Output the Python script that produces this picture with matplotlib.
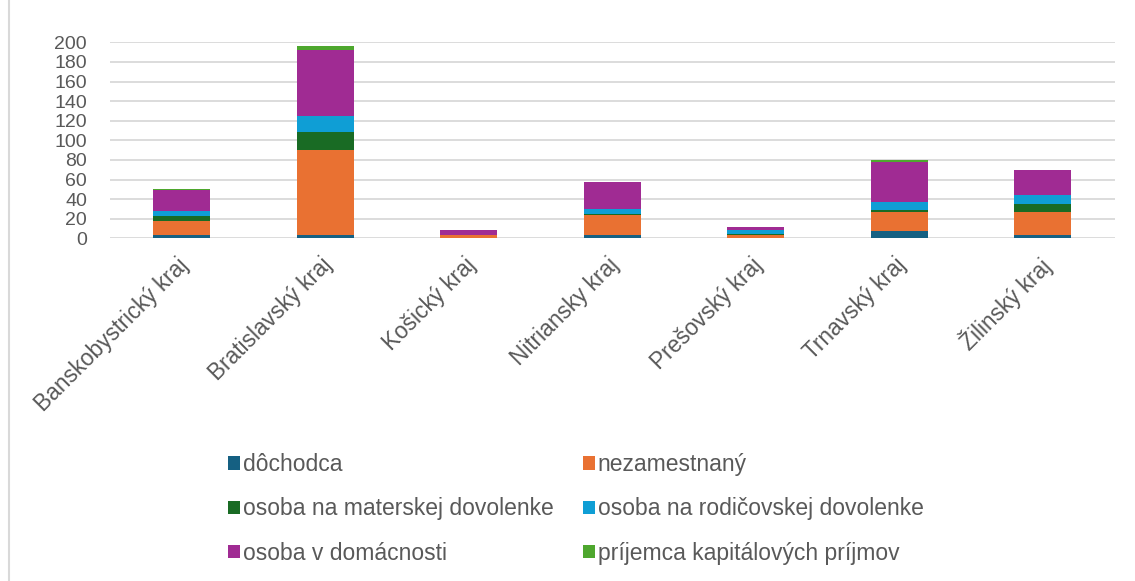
import matplotlib
matplotlib.use("Agg")
import matplotlib.pyplot as plt
from matplotlib.lines import Line2D
import matplotlib.transforms as mtransforms
import numpy as np

categories = ["Banskobystrický kraj", "Bratislavský kraj", "Košický kraj", "Nitriansky kraj",
              "Prešovský kraj", "Trnavský kraj", "Žilinský kraj"]
series_names = ["dôchodca", "nezamestnaný", "osoba na materskej dovolenke",
                "osoba na rodičovskej dovolenke", "osoba v domácnosti",
                "príjemca kapitálových príjmov"]
dochodca = [3, 3, 0, 3, 0, 7, 3]
nezamestnany = [15, 87, 3, 21, 3, 20, 24]
materska = [5, 18, 0, 1, 1, 2, 8]
rodicovska = [5, 17, 0, 5, 4, 8, 9]
domacnost = [21, 67, 5, 27, 4, 41, 26]
kapital = [1, 4, 0, 0, 0, 2, 0]
y_ticks = [0, 20, 40, 60, 80, 100, 120, 140, 160, 180, 200]

colors = ["#156082", "#E97132", "#196B24", "#0F9ED5", "#A02B93", "#4EA72E"]
series = [dochodca, nezamestnany, materska, rodicovska, domacnost, kapital]

plt.rcParams['font.family'] = ['Liberation Sans', 'DejaVu Sans']
fig = plt.figure(figsize=(11.35, 5.81), dpi=100)
W, H = 1135, 581
ax = fig.add_axes([110 / W, (H - 238.3) / H, (1114.5 - 110) / W, (238.3 - 42.3) / H])

x = np.arange(len(categories))
bottom = np.zeros(len(categories))
handles = []
for name, vals, c in zip(series_names, series, colors):
    b = ax.bar(x, vals, width=0.4, bottom=bottom, color=c, label=name, zorder=3)
    handles.append(b)
    bottom += np.array(vals)

ax.set_xlim(-0.5, len(categories) - 0.5)
ax.set_ylim(0, 200)
ax.set_yticks(y_ticks)
ax.yaxis.grid(True, color="#D9D9D9", linewidth=1.3, zorder=0)
ax.set_axisbelow(True)
for s in ["top", "right", "left", "bottom"]:
    ax.spines[s].set_visible(False)
ax.tick_params(axis="y", length=0, pad=16.5, labelsize=14, labelcolor="#595959")
ax.tick_params(axis="x", length=0, pad=11, labelsize=16.3, labelcolor="#595959")
ax.set_xticks(x)
ax.set_xticklabels(categories, rotation=45, ha="right", rotation_mode="anchor")
shift = mtransforms.ScaledTranslation(-5 / 100, 0, fig.dpi_scale_trans)
for lab in ax.get_xticklabels():
    lab.set_transform(lab.get_transform() + shift)

# legend filled row-wise (2 columns): reorder for matplotlib's column-major fill
order = [0, 2, 4, 1, 3, 5]
fig.legend(handles=[handles[i] for i in order], labels=[series_names[i] for i in order],
           ncol=2, loc="upper left", bbox_to_anchor=(228 / W, 1 - 453 / H),
           frameon=False, fontsize=16.5, borderpad=0, borderaxespad=0,
           handlelength=0.52, handleheight=0.52, handletextpad=0.13,
           labelspacing=0.93, columnspacing=1.27, labelcolor="#595959")

fig.add_artist(Line2D([9 / W, 9 / W], [0, 1], color="#D9D9D9", linewidth=1.5,
                      transform=fig.transFigure))

fig.savefig("out.png", dpi=100)
